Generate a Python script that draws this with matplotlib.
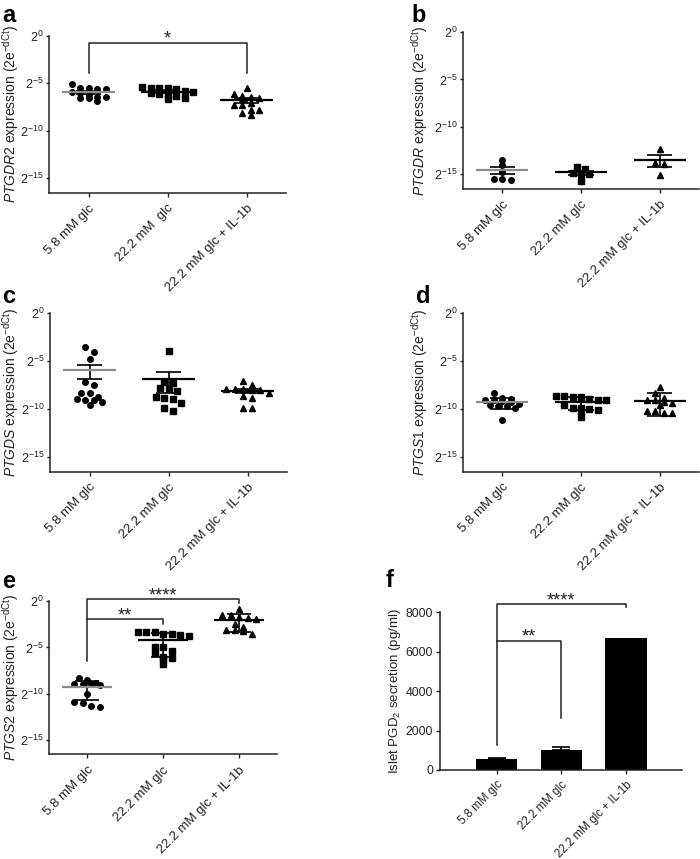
import numpy as np
import matplotlib
matplotlib.use('Agg')
import matplotlib.pyplot as plt

plt.rcParams['font.family'] = ['Liberation Sans', 'DejaVu Sans']
plt.rcParams['mathtext.fontset'] = 'custom'
plt.rcParams['mathtext.rm'] = 'Liberation Sans'
plt.rcParams['mathtext.it'] = 'Liberation Sans:italic'
plt.rcParams['mathtext.bf'] = 'Liberation Sans:bold'

# ---------------- data ----------------
groups = ["5.8 mM glc", "22.2 mM glc", "22.2 mM glc + IL-1b"]
groups_a = ["5.8 mM glc", "22.2 mM  glc", "22.2 mM glc + IL-1b"]

# expression values as log2 exponents (2^x)
ptgdr2_58 = [-5.1, -5.45, -5.5, -5.6, -5.65, -5.9, -6.05, -6.2, -6.4, -6.55, -6.6, -6.85, -6.45]
ptgdr2_222 = [-5.4, -5.45, -5.5, -5.55, -5.6, -5.8, -5.9, -6.0, -6.1, -6.2, -6.3, -6.5, -6.7]
ptgdr2_il1b = [-5.45, -6.1, -6.3, -6.45, -6.6, -6.7, -7.1, -7.3, -7.3, -7.8, -7.8, -8.1, -8.3]

ptgdr_58 = [-13.45, -14.05, -14.75, -15.45, -15.55, -15.5]
ptgdr_222 = [-14.25, -14.4, -14.9, -15.0, -14.95, -15.75]
ptgdr_il1b = [-12.35, -13.85, -13.9, -15.1]

ptgds_58 = [-3.49, -4.01, -4.78, -7.14, -7.49, -8.36, -8.36, -8.99, -9.06, -9.23, -9.06, -8.78, -9.58]
ptgds_222 = [-3.9, -7.21, -7.32, -7.84, -7.91, -8.09, -8.78, -8.85, -8.95, -9.34, -9.86, -10.18]
ptgds_il1b = [-7.1, -7.45, -7.85, -7.9, -7.95, -7.9, -8.0, -8.3, -8.6, -8.85, -9.85, -9.85]

ptgs1_58 = [-8.36, -8.85, -8.9, -9.0, -9.05, -9.1, -9.3, -9.5, -9.6, -9.65, -9.7, -9.9, -11.08]
ptgs1_222 = [-8.6, -8.7, -8.75, -8.9, -9.0, -9.0, -8.65, -9.6, -9.9, -9.95, -10.1, -10.2, -9.9, -10.8]
ptgs1_il1b = [-7.67, -8.3, -8.8, -9.0, -9.0, -9.2, -9.4, -9.6, -10.2, -10.4, -10.35, -10.2]

ptgs2_58 = [-8.32, -8.45, -8.85, -8.9, -8.95, -9.0, -8.9, -10.0, -10.95, -10.9, -11.37, -11.35]
ptgs2_222 = [-3.3, -3.5, -3.7, -3.5, -3.35, -3.3, -3.8, -4.92, -4.92, -5.4, -5.6, -6.05, -6.1, -6.2, -6.78]
ptgs2_il1b = [-0.9, -1.5, -1.7, -1.95, -1.8, -1.5, -2.5, -2.8, -3.1, -3.55, -3.25, -3.1]

pgd2_secretion = [540, 1010, 6700]
pgd2_err = [55, 140, 0]
pgd2_ticks = [0, 2000, 4000, 6000, 8000]

exp_ticks = [0, -5, -10, -15]

TXT = '#222222'
W, H = 700, 859
fig = plt.figure(figsize=(W / 100, H / 100), dpi=100)


def ax_px(x0, x1, ytop, ybot):
    return fig.add_axes([x0 / W, 1 - ybot / H, (x1 - x0) / W, (ybot - ytop) / H])


def row_offsets(vals, xpx, ypx, dx=8.5, bin_h=5.5):
    vals = np.asarray(vals, float)
    order = np.argsort(-vals, kind='stable')
    rows, cur, start = [], [], None
    for i in order:
        y = -vals[i] * ypx
        if start is None or y - start > bin_h:
            if cur:
                rows.append(cur)
            cur, start = [i], y
        else:
            cur.append(i)
    if cur:
        rows.append(cur)
    offs = np.zeros(len(vals))
    for r in rows:
        n = len(r)
        for k, i in enumerate(r):
            offs[i] = (k - (n - 1) / 2) * dx / xpx
    return offs


def style_axes(ax):
    for s in ['top', 'right']:
        ax.spines[s].set_visible(False)
    for s in ['left', 'bottom']:
        ax.spines[s].set_linewidth(1.1)
        ax.spines[s].set_color('#222222')
    ax.tick_params(axis='y', colors='#222222', labelcolor=TXT, labelsize=9,
                   length=2.5, width=1.0, direction='out', pad=1.2)
    ax.tick_params(axis='x', colors='#222222', labelcolor=TXT, labelsize=9.5,
                   length=3, width=1.0, direction='out', pad=4)


def star(ax, x, y, text):
    ax.annotate(text, (x, y), xytext=(0, -0.6), textcoords='offset points',
                ha='center', va='baseline', fontsize=13, color=TXT, annotation_clip=False)


def dot_panel(ax, data, markers, gene, labels, err_kind, xpx, label_x):
    style_axes(ax)
    ax.set_yscale('log', base=2)
    ymin, ymax = 2.0 ** -16.5, 2.0 ** 0
    ax.set_ylim(ymin, ymax)
    ax.set_xlim(-0.5, 2.5)
    ypx = 9.5
    for i, (vals, mk) in enumerate(zip(data, markers)):
        vals = np.asarray(vals, float)
        offs = row_offsets(vals, xpx, ypx)
        ms = 4.8 if mk == '^' else 4.0
        ax.plot(i + offs, 2.0 ** vals, linestyle='none', marker=mk, ms=ms,
                color='black', zorder=2, clip_on=False)
        lin = 2.0 ** vals
        m = lin.mean()
        s = lin.std(ddof=1)
        if err_kind == 'sem':
            s = s / np.sqrt(len(lin))
        mean_col = '#8c8c8c' if i == 0 else 'black'
        ax.hlines(m, i - 0.33, i + 0.33, color=mean_col, lw=1.6, zorder=4)
        lo = m - s
        hi = m + s
        lo_draw = lo if lo > 0 else ymin
        ax.vlines(i, lo_draw, hi, color='black', lw=1.2, zorder=3)
        ax.hlines(hi, i - 0.16, i + 0.16, color='black', lw=1.2, zorder=3)
        if lo > 0:
            ax.hlines(lo, i - 0.16, i + 0.16, color='black', lw=1.2, zorder=3)
    ax.set_yticks([2.0 ** t for t in exp_ticks])
    ax.set_yticklabels([r'$\mathregular{2^{%d}}$' % t for t in exp_ticks])
    ax.minorticks_off()
    ax.set_xticks(range(3))
    ax.set_xticklabels(labels, rotation=45, ha='right', rotation_mode='anchor')
    ax.set_ylabel(r'$\mathit{%s}$ expression (2e$^{\mathregular{-dCt}}$)' % gene,
                  fontsize=10, color=TXT)
    ax.yaxis.set_label_coords(label_x, 0.5)


mk3 = ['o', 's', '^']

# panel a
axa = ax_px(49, 286, 35.7, 192.6)
dot_panel(axa, [ptgdr2_58, ptgdr2_222, ptgdr2_il1b], mk3, 'PTGDR2', groups_a, 'sem', 79.0, -0.120)
axa.plot([0, 0, 2, 2], [2.0 ** -3.94, 2.0 ** -0.78, 2.0 ** -0.78, 2.0 ** -3.94],
         color='#222222', lw=1.1, clip_on=False, zorder=5)
star(axa, 1, 2.0 ** -0.78, '*')

# panel b
axb = ax_px(463, 699, 32, 188.6)
dot_panel(axb, [ptgdr_58, ptgdr_222, ptgdr_il1b], mk3, 'PTGDR', groups, 'sem', 79.0, -0.140)

# panel c
axc = ax_px(50, 287, 313.3, 471.5)
dot_panel(axc, [ptgds_58, ptgds_222, ptgds_il1b], mk3, 'PTGDS', groups, 'sem', 79.0, -0.123)

# panel d
axd = ax_px(463, 699, 313.3, 471.5)
dot_panel(axd, [ptgs1_58, ptgs1_222, ptgs1_il1b], mk3, 'PTGS1', groups, 'sd', 79.0, -0.140)

# panel e
axe = ax_px(49, 277, 601, 754.3)
dot_panel(axe, [ptgs2_58, ptgs2_222, ptgs2_il1b], mk3, 'PTGS2', groups, 'sd', 76.0, -0.124)
axe.plot([0, 0, 2, 2], [2.0 ** -6.43, 2.0 ** 0.18, 2.0 ** 0.18, 2.0 ** -0.25],
         color='#222222', lw=1.1, clip_on=False, zorder=5)
star(axe, 1, 2.0 ** 0.18, '****')
axe.plot([0, 1, 1], [2.0 ** -1.97, 2.0 ** -1.97, 2.0 ** -2.5],
         color='#222222', lw=1.1, clip_on=False, zorder=5)
star(axe, 0.5, 2.0 ** -1.97, '**')

# panel f
axf = ax_px(440, 682, 612.3, 770)
style_axes(axf)
axf.tick_params(axis='y', length=3, pad=2, labelsize=8.8)
axf.tick_params(axis='x', labelsize=8.3, pad=3.2)
xf = np.arange(3)
axf.bar(xf, pgd2_secretion, width=0.64, color='black', zorder=2)
err = np.asarray(pgd2_err, float)
has = err > 0
axf.errorbar(xf[has], np.asarray(pgd2_secretion, float)[has], yerr=[np.zeros(has.sum()), err[has]],
             fmt='none', ecolor='black', elinewidth=1.2, capsize=6.5, capthick=1.2, zorder=3)
axf.set_xlim(-0.88, 2.87)
axf.set_ylim(0, 8000)
axf.set_yticks(pgd2_ticks)
axf.set_xticks(xf)
axf.set_xticklabels(groups, rotation=45, ha='right', rotation_mode='anchor')
axf.set_ylabel(r'Islet PGD$_\mathregular{2}$ secretion (pg/ml)', fontsize=9.5, color=TXT)
axf.yaxis.set_label_coords(-0.153, 0.5)
axf.plot([0, 0, 1, 1], [1268, 6545, 6545, 2620], color='#222222', lw=1.1, clip_on=False, zorder=5)
star(axf, 0.5, 6545, '**')
axf.plot([0, 0, 2, 2], [6545, 8406, 8406, 8254], color='#222222', lw=1.1, clip_on=False, zorder=5)
star(axf, 1, 8406, '****')

# panel letters
for letter, x, y in [('a', 2, 22), ('b', 411, 22), ('c', 2, 303), ('d', 416, 303),
                     ('e', 2, 588), ('f', 386, 587)]:
    fig.text(x / W, 1 - y / H, letter, fontsize=17, fontweight='bold', color='black',
             ha='left', va='baseline')

fig.savefig('out.png', dpi=100)
